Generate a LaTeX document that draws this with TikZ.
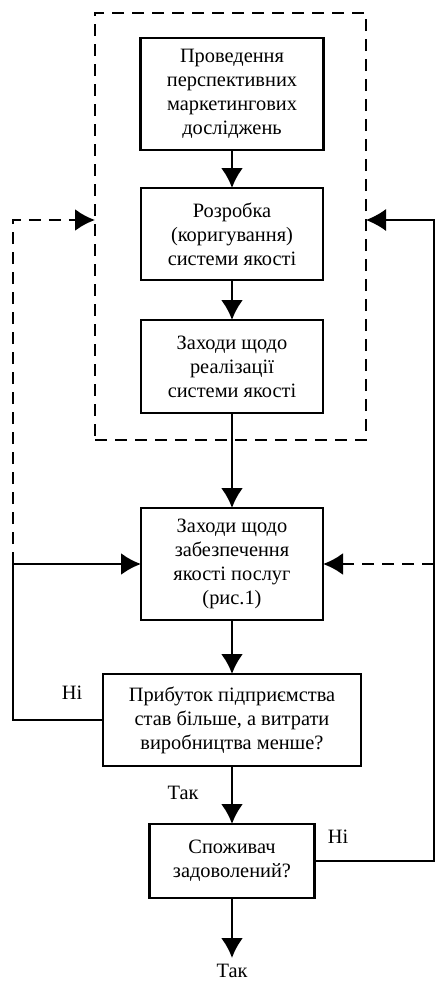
\documentclass[tikz,border=0pt]{standalone}
\usepackage{fontspec}
\setmainfont{Liberation Serif}
\usetikzlibrary{positioning}
\usetikzlibrary{arrows.meta}

\begin{document}
\begin{tikzpicture}[>={Latex[length=.5cm,width=.55cm]},line width=1.8pt,
	font=\fontsize{14.5pt}{17pt}\selectfont,
	blk/.style={draw=black,align=center,outer sep=0pt,inner sep=2pt},
	fb/.style={dash pattern=on .3cm off .2cm}]
	\useasboundingbox (0,0) rectangle (10.95,-24.55);

	% dashed frame round the quality system
	\node [fb,draw=black,minimum width=6.775cm,minimum height=10.675cm,outer sep=0pt] at (5.7625,-5.6625) (sys_frame) {};

	\node [blk,minimum width=4.575cm,minimum height=2.8cm] at (5.8,-2.35) (research) {Проведення\\перспективних\\маркетингових\\досліджень};
	\node [blk,minimum width=4.55cm,minimum height=2.3cm,below=.95cm of research] (develop) {Розробка\\(коригування)\\системи якості};
	\node [blk,minimum width=4.55cm,minimum height=2.325cm,below=1cm of develop] (realize) {Заходи щодо\\реалізації\\системи якості};
	\node [blk,minimum width=4.55cm,minimum height=2.8cm,below=2.375cm of realize] (service) {Заходи щодо\\забезпечення\\якості послуг\\(рис.1)};
	\node [blk,minimum width=6.45cm,minimum height=2.3cm,below=1.35cm of service] (profit) {Прибуток підприємства\\став більше, а витрати\\виробництва менше?};
	\node [blk,minimum width=4.125cm,minimum height=1.85cm,below=1.45cm of profit] (client) {Споживач\\задоволений?};
	\node [below=1.5cm of client] (yes_out) {Так};

	\node at (4.575,-19.825) (yes_lbl) {Так};
	\node at (1.8,-17.325) (no_lft) {Ні};
	\node at (8.45,-20.925) (no_rgt) {Ні};

	\coordinate (fb_y) at (0,-5.5);
	\coordinate (lft_mid) at (0.325,0 |- service.west);
	\coordinate (rgt_mid) at (10.85,0 |- service.east);

	\draw [->] (research) -- (develop);
	\draw [->] (develop) -- (realize);
	\draw [->] (realize) -- (service);
	\draw [->] (service) -- (profit);
	\draw [->] (profit) -- (client);
	\draw [->] (client) -- (yes_out);

	% feedback loops
	\draw [->] (profit.west) -| (lft_mid) -- (service.west);
	\draw [->,fb] (lft_mid) |- (sys_frame.west |- fb_y);
	\draw [->,line width=.9pt] (client.east) -| (rgt_mid) |- (sys_frame.east |- fb_y);
	\draw [->,fb] (rgt_mid) -- (service.east);
\end{tikzpicture}
\end{document}
